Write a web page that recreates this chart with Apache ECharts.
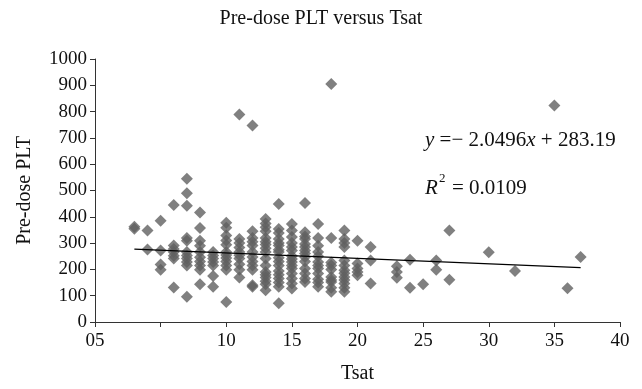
<!DOCTYPE html>
<html>
<head>
<meta charset="utf-8">
<script src="https://cdn.jsdelivr.net/npm/echarts@6/dist/echarts.min.js"></script>
<style>
  html, body { margin: 0; padding: 0; background: #fff; }
  #chart { width: 642px; height: 389px; }
</style>
</head>
<body>
<div id="chart"></div>
<script>
// Tsat value of each column of points
const tsatColumns = [3, 4, 5, 6, 7, 8, 9, 10, 11, 12, 13, 14, 15, 16, 17, 18, 19, 20, 21, 23, 24, 25, 26, 27, 30, 32, 35, 36, 37];

// Pre-dose PLT values in each column (same order as tsatColumns)
const pltColumns = [
  [355, 362],
  [348, 276],
  [385, 272, 219, 199],
  [445, 291, 278, 266, 252, 241, 131],
  [545, 490, 442, 319, 309, 266, 253, 241, 228, 215, 96],
  [416, 357, 309, 290, 266, 246, 230, 215, 199, 144],
  [266, 253, 241, 228, 215, 175, 134],
  [377, 358, 329, 310, 294, 266, 255, 243, 230, 215, 199, 76],
  [789, 316, 300, 283, 266, 254, 241, 220, 199, 169],
  [747, 345, 319, 305, 291, 266, 247, 230, 215, 199, 140, 134],
  [392, 375, 360, 345, 319, 305, 295, 280, 266, 241, 215, 190, 180, 169, 155, 144, 121],
  [449, 354, 338, 316, 300, 291, 275, 266, 244, 230, 215, 194, 180, 165, 150, 134, 71],
  [373, 348, 323, 300, 285, 272, 251, 240, 228, 215, 203, 184, 165, 146, 127],
  [452, 341, 325, 316, 297, 285, 272, 260, 247, 230, 203, 184, 165, 152],
  [373, 319, 290, 266, 250, 228, 215, 203, 184, 163, 150, 134],
  [905, 319, 226, 215, 200, 171, 160, 152, 130, 115],
  [348, 316, 300, 285, 234, 215, 197, 185, 171, 160, 146, 130, 115],
  [309, 222, 203, 190, 178],
  [285, 234, 146],
  [212, 190, 168],
  [237, 130],
  [144],
  [234, 199],
  [348, 161],
  [265],
  [194],
  [823],
  [128],
  [247]
];

// linear trend line end points
const trendLine = [[3, 277], [37, 207]];

const xTickLabels = { 0: '05', 5: '', 10: '10', 15: '15', 20: '20', 25: '25', 30: '30', 35: '35', 40: '40' };

const points = [];
tsatColumns.forEach((x, i) => {
  pltColumns[i].forEach(y => points.push([x, y]));
});

const serif = '"Liberation Serif", "DejaVu Serif", serif';
const axisColor = '#333';

const chart = echarts.init(document.getElementById('chart'));

chart.setOption({
  animation: false,
  textStyle: { fontFamily: serif },
  title: {
    text: 'Pre-dose PLT versus Tsat',
    left: 'center',
    top: 4,
    textStyle: { fontFamily: serif, fontWeight: 'normal', fontSize: 20, color: '#111' }
  },
  grid: { left: 95, right: 22, top: 59, bottom: 65 },
  xAxis: {
    type: 'value',
    min: 0,
    max: 40,
    interval: 5,
    name: 'Tsat',
    nameLocation: 'middle',
    nameGap: 42,
    nameTextStyle: { fontFamily: serif, fontSize: 20, color: '#111' },
    axisLine: { lineStyle: { color: axisColor, width: 1 } },
    axisTick: { show: true, length: 5, lineStyle: { color: axisColor } },
    splitLine: { show: false },
    axisLabel: {
      fontFamily: serif, fontSize: 19, color: '#111', margin: 10,
      formatter: v => xTickLabels[v] !== undefined ? xTickLabels[v] : String(v)
    }
  },
  yAxis: {
    type: 'value',
    min: 0,
    max: 1000,
    interval: 100,
    name: 'Pre-dose PLT',
    nameLocation: 'middle',
    nameGap: 60,
    nameTextStyle: { fontFamily: serif, fontSize: 20, color: '#111' },
    axisLine: { show: true, lineStyle: { color: axisColor, width: 1 } },
    axisTick: { show: true, length: 5, lineStyle: { color: axisColor } },
    splitLine: { show: false },
    axisLabel: { fontFamily: serif, fontSize: 19, color: '#111', margin: 8, formatter: v => String(v) }
  },
  series: [
    {
      name: 'PLT',
      type: 'scatter',
      symbol: 'diamond',
      symbolSize: 12,
      itemStyle: { color: '#606060' },
      data: points,
      z: 2
    },
    {
      name: 'Trend',
      type: 'line',
      data: trendLine,
      symbol: 'none',
      lineStyle: { color: '#000', width: 1.3 },
      z: 3
    }
  ],
  graphic: [
    {
      type: 'text',
      left: 425,
      top: 130,
      style: {
        text: '{i|y} =− 2.0496{i|x} + 283.19',
        font: '21px ' + serif,
        fill: '#111',
        rich: {
          i: { fontStyle: 'italic', fontFamily: serif, fontSize: 21, fill: '#111' }
        }
      }
    },
    {
      type: 'text',
      left: 425,
      top: 178,
      style: { text: 'R', font: 'italic 21px ' + serif, fill: '#111' }
    },
    {
      type: 'text',
      left: 439,
      top: 172,
      style: { text: '2', font: '13px ' + serif, fill: '#111' }
    },
    {
      type: 'text',
      left: 452,
      top: 178,
      style: { text: '= 0.0109', font: '21px ' + serif, fill: '#111' }
    }
  ]
});
</script>
</body>
</html>
